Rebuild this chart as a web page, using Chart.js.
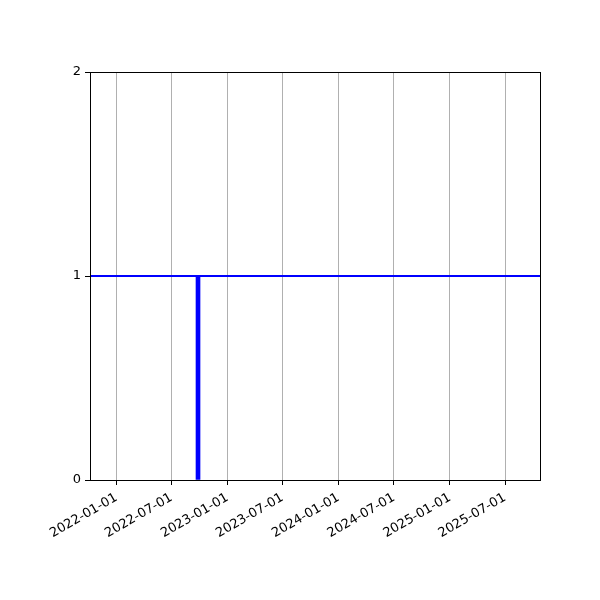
<!DOCTYPE html>
<html>
<head>
<meta charset="utf-8">
<script src="https://cdn.jsdelivr.net/npm/chart.js@4"></script>
<style>
  html, body { margin: 0; padding: 0; background: #fff; }
  #wrap { width: 600px; height: 600px; }
</style>
</head>
<body>
<div id="wrap"><canvas id="chart" width="600" height="600"></canvas></div>
<script>
// DADOS
const tickDates = ['2022-01-01', '2022-07-01', '2023-01-01', '2023-07-01', '2024-01-01', '2024-07-01', '2025-01-01', '2025-07-01'];
const xRange = ['2021-10-06', '2025-10-24'];
const barDates = ['2022-09-26'];
const barValues = [1];
const levelValue = 1;
const yTicks = [0, 1, 2];

const ms = d => Date.parse(d + 'T00:00:00Z');
const fmt = v => new Date(v).toISOString().slice(0, 10);

// moldura preta em volta da área do gráfico
const frame = {
    id: 'frame',
    afterDraw(chart) {
        const a = chart.chartArea, c = chart.ctx;
        c.save();
        c.strokeStyle = '#000';
        c.lineWidth = 1;
        c.strokeRect(Math.round(a.left) + 0.5, Math.round(a.top) + 0.5, Math.round(a.right - a.left), Math.round(a.bottom - a.top));
        c.restore();
    }
};

Chart.defaults.font.family = 'DejaVu Sans';
Chart.defaults.font.size = 13;
Chart.defaults.color = '#000';

const ctx = document.getElementById('chart').getContext('2d');
new Chart(ctx, {
    data: {
        datasets: [{
            type: 'line',
            data: [{ x: ms(xRange[0]), y: levelValue }, { x: ms(xRange[1]), y: levelValue }],
            borderColor: '#0000ff',
            borderWidth: 2,
            pointRadius: 0,
            order: 1
        }, {
            type: 'bar',
            data: barDates.map((d, i) => ({ x: ms(d), y: barValues[i] })),
            backgroundColor: '#0000ff',
            barThickness: 4,
            order: 2
        }]
    },
    options: {
        responsive: false,
        animation: false,
        layout: { padding: { left: 0, right: 60, top: 72, bottom: 0 } },
        plugins: { legend: { display: false }, tooltip: { enabled: false } },
        scales: {
            x: {
                type: 'linear',
                offset: false,
                min: ms(xRange[0]),
                max: ms(xRange[1]),
                afterBuildTicks: s => { s.ticks = tickDates.map(d => ({ value: ms(d) })); },
                afterFit: s => { s.height = 120; },
                ticks: { callback: v => fmt(v), minRotation: 30, maxRotation: 30, padding: 5, autoSkip: false, align: 'end' },
                grid: { color: '#b0b0b0', lineWidth: 1, tickColor: '#000', tickLength: 5, offset: false },
                border: { display: true, color: '#000' }
            },
            y: {
                min: 0,
                max: 2,
                afterBuildTicks: s => { s.ticks = yTicks.map(v => ({ value: v })); },
                afterFit: s => { s.width = 90; },
                ticks: { padding: 4 },
                grid: { drawOnChartArea: false, tickColor: '#000', tickLength: 5 },
                border: { display: true, color: '#000' }
            }
        }
    },
    plugins: [frame]
});
</script>
</body>
</html>
